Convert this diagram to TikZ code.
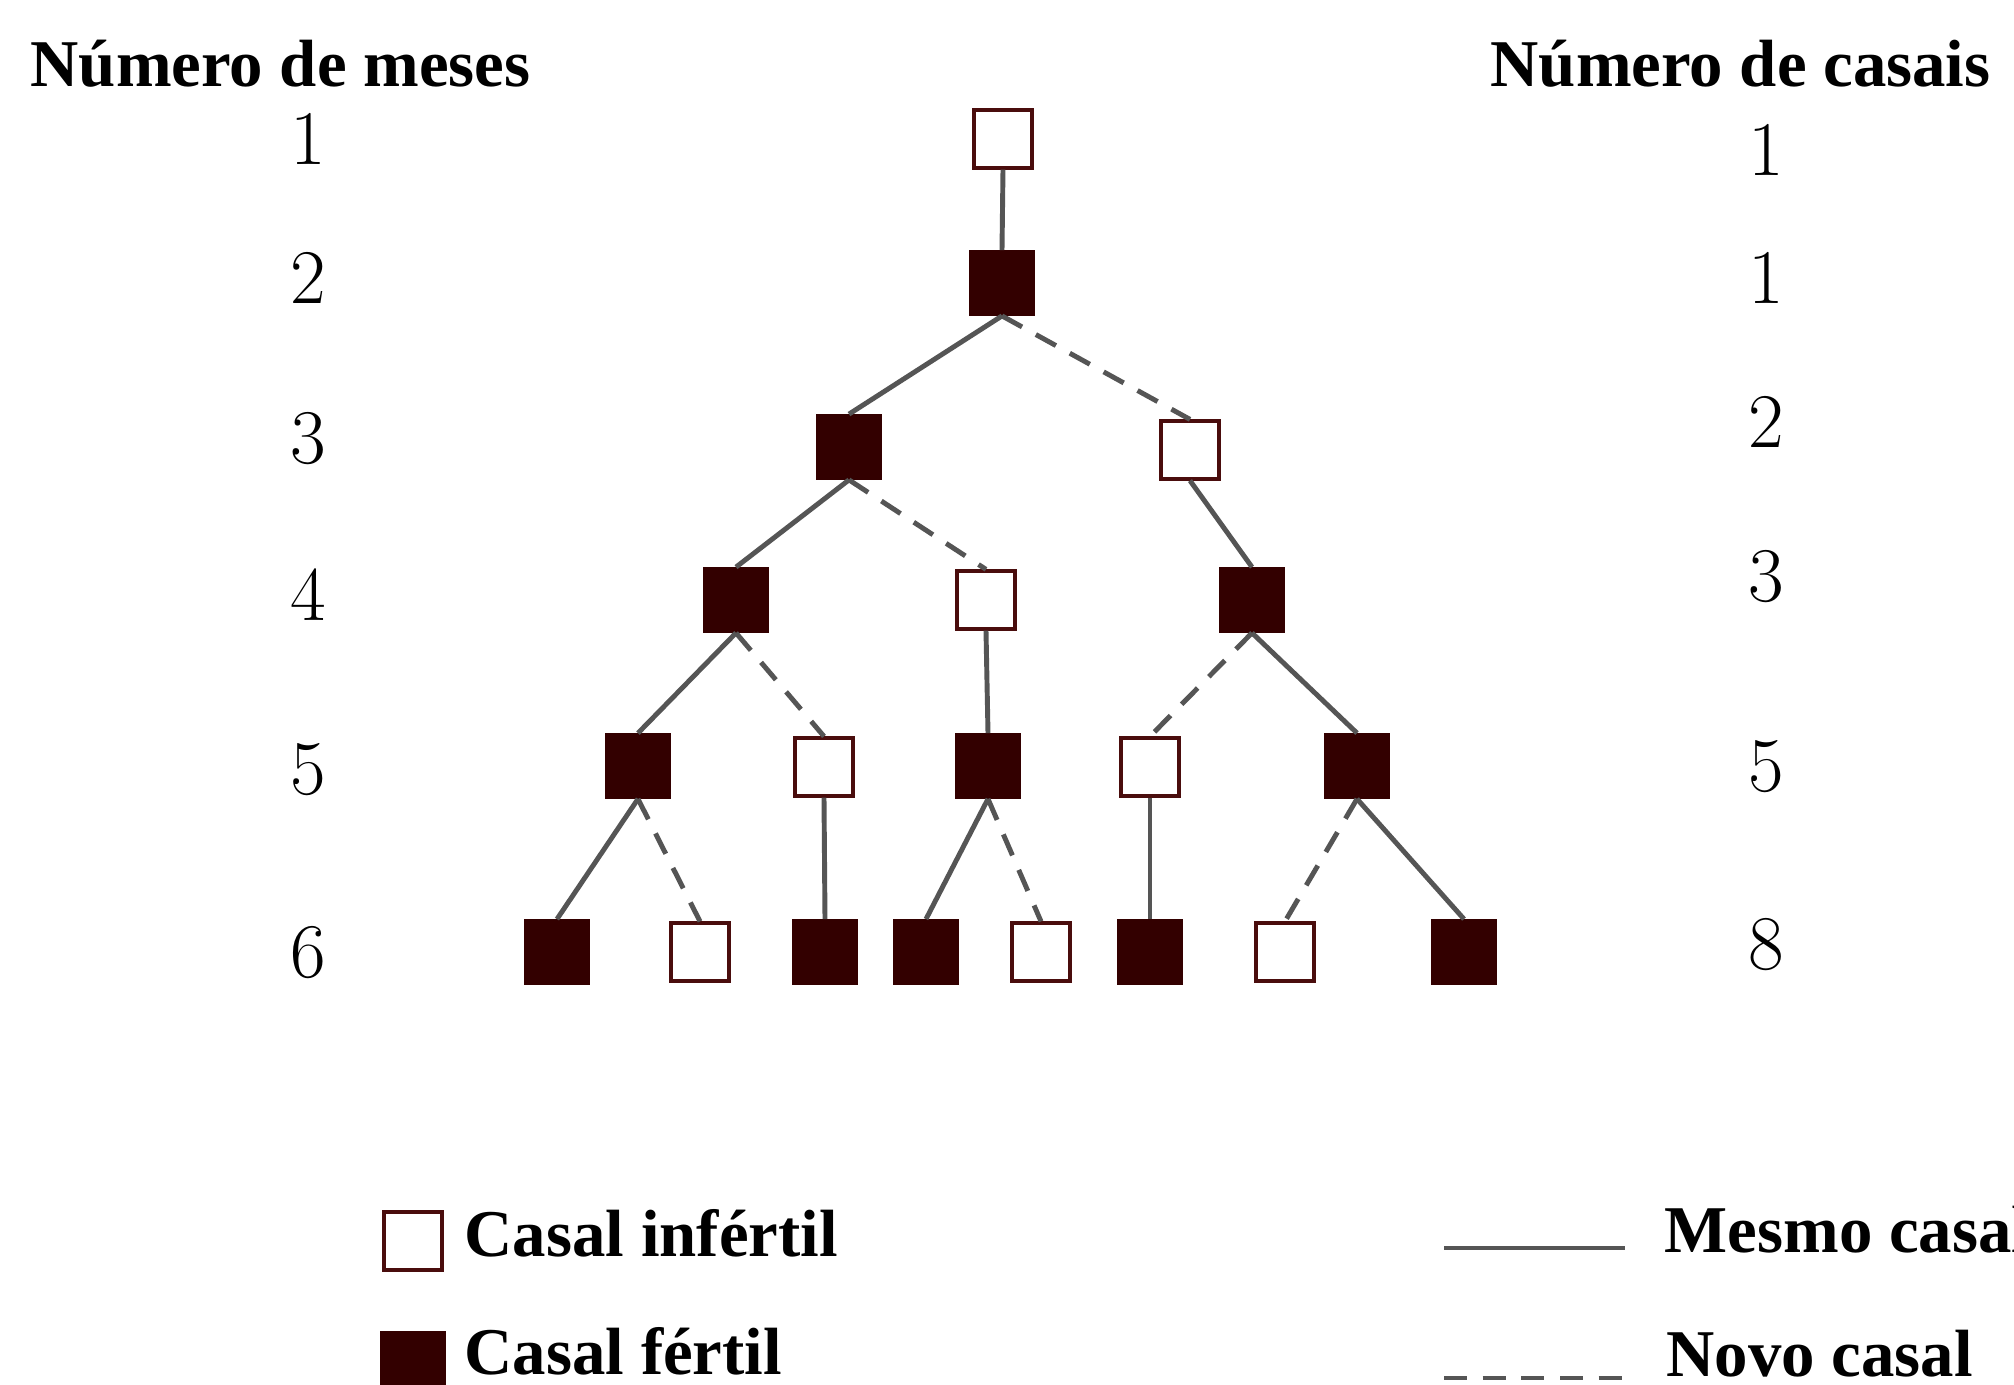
\documentclass[tikz,border=0pt]{standalone}
\usepackage{fontspec}
\newfontfamily\hdr{Liberation Serif}
\definecolor{fertcol}{HTML}{330000}
\definecolor{infcol}{HTML}{4A0D0D}
\definecolor{linecol}{HTML}{555555}
\begin{document}
\begin{tikzpicture}[x=0.01cm,y=-0.01cm,
  fert/.style={draw=fertcol, fill=fertcol, line width=0.5pt, minimum size=0.64cm, inner sep=0pt},
  infert/.style={draw=infcol, fill=white, line width=0.9pt, minimum size=0.58cm, inner sep=0pt},
  samecpl/.style={draw=linecol, line width=1.4pt},
  newcpl/.style={draw=linecol, line width=1.4pt, dash pattern=on 6.5pt off 4.5pt},
  hd/.style={font=\hdr\bfseries\fontsize{19}{23}\selectfont, inner sep=0pt, anchor=base west},
  num/.style={font=\fontsize{22}{26}\selectfont, inner sep=0pt}
]
\useasboundingbox (0,0) rectangle (2014,1385);
\fill[white] (0,0) rectangle (2014,1385);

% headers
\node[hd] (hmeses) at (30,87) {Número de meses};
\node[hd] (hcasais) at (1490,87) {Número de casais};

% month numbers
\node[num] (m1) at (308,139) {1};
\node[num] (m2) at (308,278) {2};
\node[num] (m3) at (308,439) {3};
\node[num] (m4) at (308,595) {4};
\node[num] (m5) at (308,770) {5};
\node[num] (m6) at (308,953) {6};

% pair numbers
\node[num] (c1) at (1766,150) {1};
\node[num] (c2) at (1766,278) {1};
\node[num] (c3) at (1766,422) {2};
\node[num] (c4) at (1766,577) {3};
\node[num] (c5) at (1766,767) {5};
\node[num] (c6) at (1766,945) {8};

% tree nodes
\node[infert] (n1) at (1003,139) {};
\node[fert] (n2) at (1002,283) {};
\node[fert] (n3a) at (849,447) {};
\node[infert] (n3b) at (1190,450) {};
\node[fert] (n4a) at (736,600) {};
\node[infert] (n4b) at (986,600) {};
\node[fert] (n4c) at (1252,600) {};
\node[fert] (n5a) at (638,766) {};
\node[infert] (n5b) at (824,767) {};
\node[fert] (n5c) at (988,766) {};
\node[infert] (n5d) at (1150,767) {};
\node[fert] (n5e) at (1357,766) {};
\node[fert] (n6a) at (557,952) {};
\node[infert] (n6b) at (700,952) {};
\node[fert] (n6c) at (825,952) {};
\node[fert] (n6d) at (926,952) {};
\node[infert] (n6e) at (1041,952) {};
\node[fert] (n6f) at (1150,952) {};
\node[infert] (n6g) at (1285,952) {};
\node[fert] (n6h) at (1464,952) {};

% edges
\draw[samecpl] (n1.south) -- (n2.north);
\draw[samecpl] (n2.south) -- (n3a.north);
\draw[newcpl] (n2.south) -- (n3b.north);
\draw[samecpl] (n3a.south) -- (n4a.north);
\draw[newcpl] (n3a.south) -- (n4b.north);
\draw[samecpl] (n3b.south) -- (n4c.north);
\draw[samecpl] (n4a.south) -- (n5a.north);
\draw[newcpl] (n4a.south) -- (n5b.north);
\draw[samecpl] (n4b.south) -- (n5c.north);
\draw[newcpl] (n4c.south) -- (n5d.north);
\draw[samecpl] (n4c.south) -- (n5e.north);
\draw[samecpl] (n5a.south) -- (n6a.north);
\draw[newcpl] (n5a.south) -- (n6b.north);
\draw[samecpl] (n5b.south) -- (n6c.north);
\draw[samecpl] (n5c.south) -- (n6d.north);
\draw[newcpl] (n5c.south) -- (n6e.north);
\draw[samecpl] (n5d.south) -- (n6f.north);
\draw[newcpl] (n5e.south) -- (n6g.north);
\draw[samecpl] (n5e.south) -- (n6h.north);

% legend
\node[infert] (leginf) at (413,1241) {};
\node[hd] (leginft) at (464,1256) {Casal infértil};
\node[fert] (legfer) at (413,1364) {};
\node[hd] (legfert) at (464,1374) {Casal fértil};
\coordinate (ls1) at (1444,1248);
\coordinate (ls2) at (1625,1248);
\draw[samecpl] (ls1) -- (ls2);
\node[hd] (legsame) at (1664,1252) {Mesmo casal};
\coordinate (ln1) at (1444,1378);
\coordinate (ln2) at (1625,1378);
\draw[newcpl] (ln1) -- (ln2);
\node[hd] (legnew) at (1666,1376) {Novo casal};
\end{tikzpicture}
\end{document}
